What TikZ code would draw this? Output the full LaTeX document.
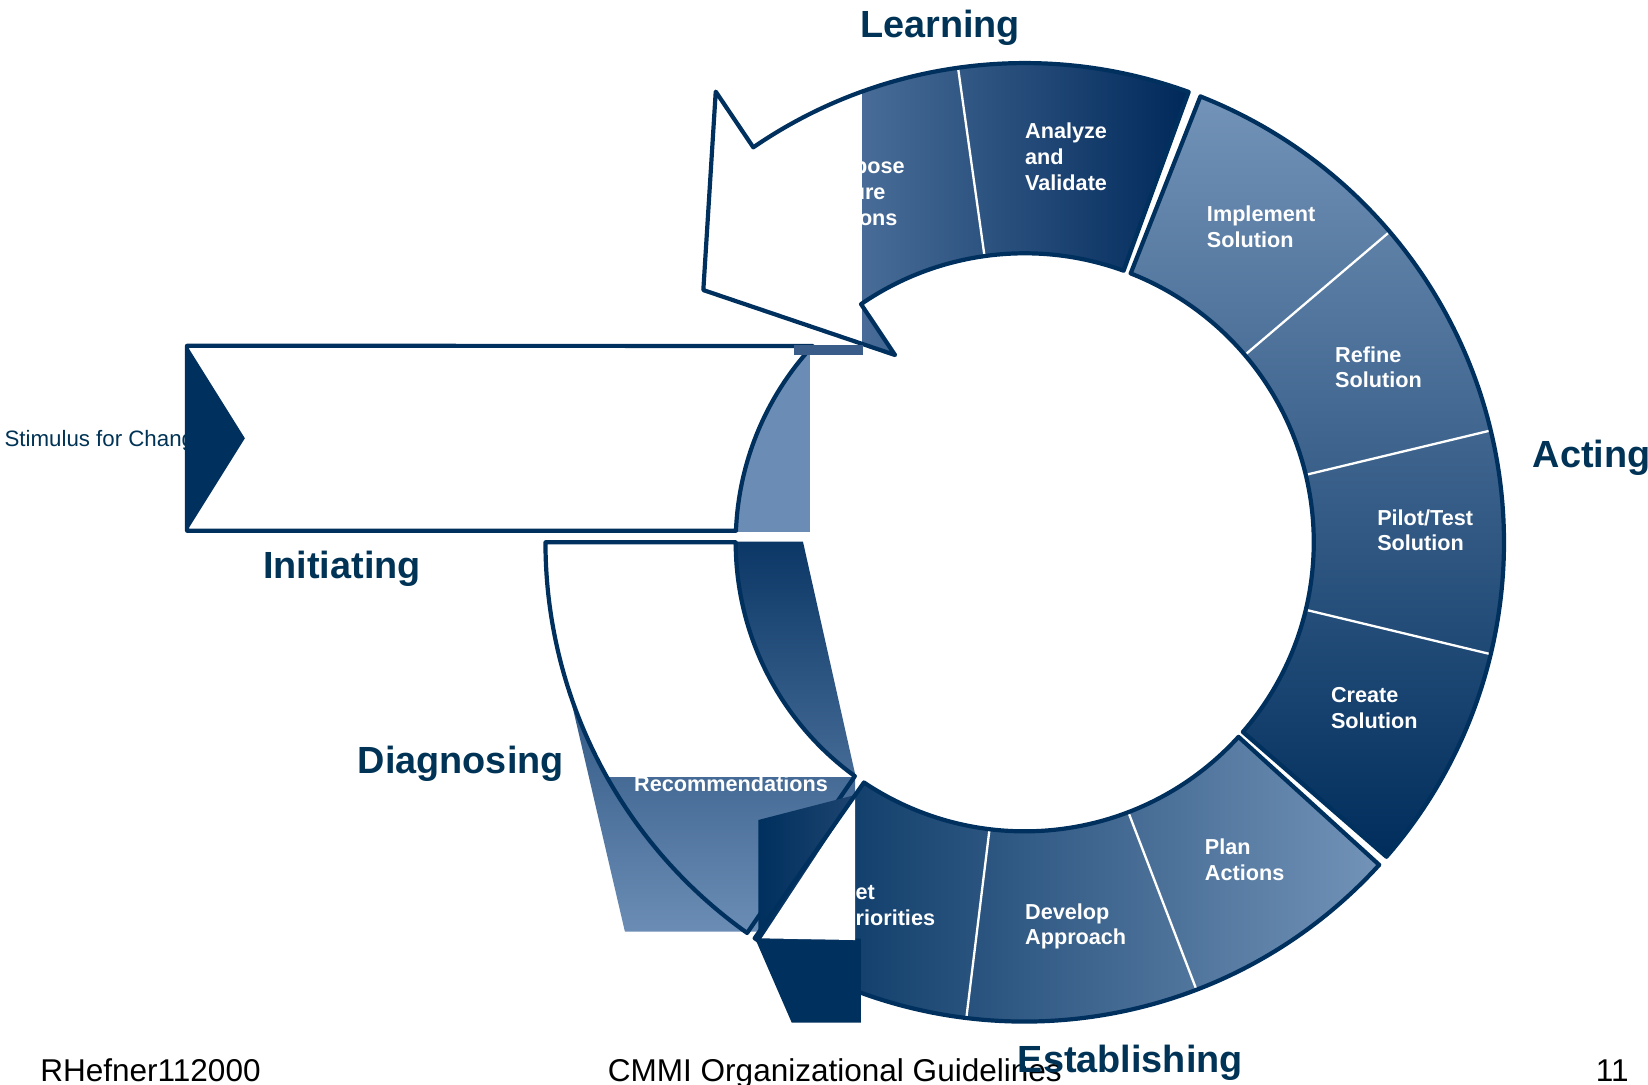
\documentclass[tikz,border=0pt]{standalone}
\usepackage{fontspec}
\setmainfont{Liberation Sans}
\usepackage{xcolor}

\definecolor{navy}{RGB}{0,48,94}
\definecolor{deepnavy}{RGB}{0,41,90}
\definecolor{steel}{RGB}{107,141,181}
\definecolor{lightsteel}{RGB}{115,147,184}
\definecolor{actbottom}{RGB}{0,45,92}
\definecolor{rtop}{RGB}{11,55,102}
\definecolor{stripblue}{RGB}{58,92,136}
\definecolor{setmid}{RGB}{30,68,112}
\definecolor{phasetext}{RGB}{0,51,85}

\tikzset{
  outline/.style={draw=navy, line width=2pt, line join=round},
  divider/.style={draw=white, line width=1.1pt},
  seglabel/.style={text=white, font=\fontsize{10.3}{12.25}\selectfont\bfseries,
    align=left, anchor=west, inner sep=0pt},
  phase/.style={text=phasetext, font=\fontsize{18}{20}\selectfont\bfseries,
    anchor=base west, inner sep=0pt},
  footer/.style={text=black, font=\fontsize{15}{17}\selectfont,
    anchor=base west, inner sep=0pt}
}

\def\ri{275}
\def\ro{456}
\def\learnpath{(70:\ro) arc[start angle=70, end angle=124.5, radius=\ro]
  -- (-294,428.8) -- (-305.8,240) -- (-123.4,178.2)
  -- (124.5:\ri) arc[start angle=124.5, end angle=70, radius=\ri] -- cycle}
\def\actpath{(68.5:\ro) arc[start angle=68.5, end angle=-41, radius=\ro]
  -- (-41:\ri) arc[start angle=-41, end angle=68.5, radius=\ri] -- cycle}
\def\estpath{(-42.3:\ro) arc[start angle=-42.3, end angle=-124.3, radius=\ro]
  -- (-123.8:\ri) arc[start angle=-123.8, end angle=-42.3, radius=\ri] -- cycle}
\def\diagpath{(180:\ro) arc[start angle=180, end angle=234.6, radius=\ro]
  -- (234:\ri) arc[start angle=234, end angle=180, radius=\ri] -- cycle}

\begin{document}
\begin{tikzpicture}[x=0.5pt, y=0.5pt]
\useasboundingbox (-975,-516) rectangle (593,516);

% Initiating
\fill[steel] (-290,10.1) rectangle (-204.3,187);
\filldraw[fill=white, outline] (-797,187) -- (137.2:\ri)
  arc[start angle=137.2, end angle=177.7, radius=\ri] -- (-797,11) -- cycle;
\node[anchor=base west, text=phasetext, font=\fontsize{10.6}{12}\selectfont,
  inner sep=0pt] (stimulus) at (-971,91) {Stimulus for Change};
\fill[navy] (-797,187) -- (-742,99) -- (-797,11) -- cycle;
\node[phase] (initiating) at (-725,-34) {Initiating};

% Learning
\shade[left color=steel, right color=deepnavy] \learnpath;
\node[seglabel] (propose) at (-197,333) {Propose\\Future\\Actions};
\node[seglabel] (analyze) at (0,367) {Analyze\\and\\Validate};
\begin{scope}
  \clip \learnpath;
  \fill[white] (-320,170) rectangle (-154.5,470);
\end{scope}
\draw[divider] (98:\ri) -- (98:\ro);
\draw[outline] \learnpath;
\fill[stripblue] (-220,178.2) rectangle (-153.6,188);
\node[phase] (learning) at (-157,480) {Learning};

% Diagnosing
\shade[top color=rtop, bottom color=steel] (-455,0.6) -- (-211,0.6)
  -- (-161.5,-220) -- (-161.5,-370.5) -- (-380.4,-370.5) -- (-435.5,-134) -- cycle;
\node[seglabel] (recommend) at (-372,-217.75) {Develop\\Recommendations};
\begin{scope}
  \clip \diagpath;
  \fill[white] (-470,5) rectangle (-150,-223.5);
\end{scope}
\draw[outline] \diagpath;
\node[phase] (diagnosing) at (-635,-220) {Diagnosing};

% Establishing
\shade[left color=navy, right color=lightsteel] \estpath;
\foreach \a in {-69,-97}
  \draw[divider] (\a:\ri) -- (\a:\ro);
\node[seglabel] (priorities) at (-175,-345) {Set\\Priorities};
\node[seglabel] (approach) at (0,-365.5) {Develop\\Approach};
\node[seglabel] (plan) at (171,-302) {Plan\\Actions};
\fill[navy] (-256.6,-376.8) -- (-221.7,-457) -- (-155.8,-457) -- (-155.8,-377) -- cycle;
\shade[left color=navy, right color=setmid] (-253.5,-264.2) -- (-161.5,-240.4)
  -- (-161.5,-378.4) -- (-253.5,-378.4) -- cycle;
\fill[white] (-161.5,-242) -- (-250.3,-376.8) -- (-161.5,-378.4) -- cycle;
\draw[outline] \estpath;

% Acting
\shade[top color=lightsteel, bottom color=actbottom] \actpath;
\foreach \a in {40.4,13.5,-13.5}
  \draw[divider] (\a:\ri) -- (\a:\ro);
\node[seglabel] (implement) at (173,300.5) {Implement\\Solution};
\node[seglabel] (refine) at (295,166.5) {Refine\\Solution};
\node[seglabel] (pilot) at (335,11.5) {Pilot/Test\\Solution};
\node[seglabel] (create) at (291,-157.5) {Create\\Solution};
\draw[outline] \actpath;
\node[phase] (acting) at (483,71) {Acting};

% footer
\node[footer] (author) at (-937,-513) {RHefner112000};
\node[footer] (title) at (-397,-513) {CMMI Organizational Guidelines};
\node[footer] (page) at (543,-513) {11};
\node[phase] (establishing) at (-7,-504) {Establishing};
\end{tikzpicture}
\end{document}
